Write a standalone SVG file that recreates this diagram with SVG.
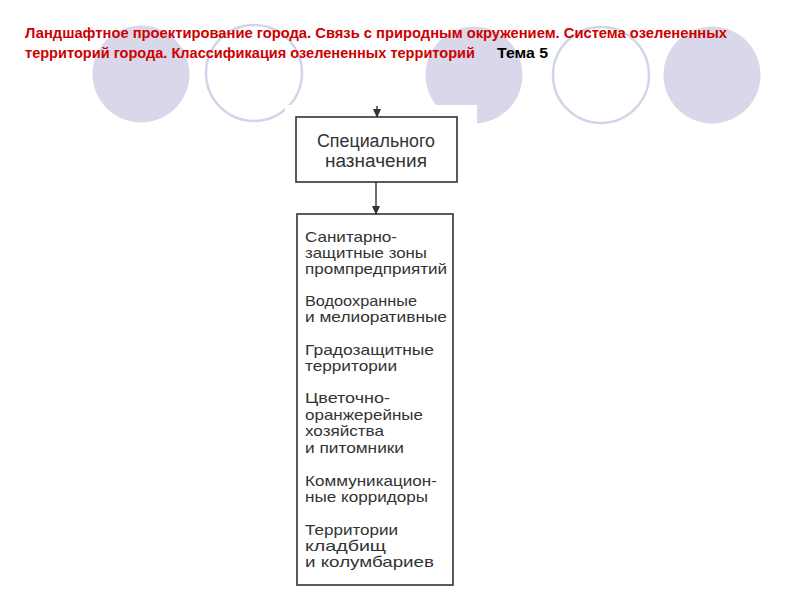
<svg xmlns="http://www.w3.org/2000/svg" width="800" height="600" viewBox="0 0 800 600">
<style>
.fc{fill:#d8d8ea;stroke:none}
.oc{fill:#ffffff;stroke:#d4d4e8;stroke-width:2.5}
.title{font-family:"Liberation Sans Narrow","Liberation Sans",Arial,sans-serif;font-size:14.5px;font-weight:bold}
.box{fill:#ffffff;stroke:#333333;stroke-width:1.6}
.t{font-family:"Liberation Sans",Arial,sans-serif;font-size:15px;fill:#333333}
.h{font-family:"Liberation Sans",Arial,sans-serif;font-size:18px;fill:#333333}
.conn{stroke:#333333;stroke-width:1.4;fill:none}
</style>
<defs>
<marker id="arr" markerWidth="10" markerHeight="10" refX="8" refY="5" orient="auto" markerUnits="userSpaceOnUse">
<path d="M0,1 L9,5 L0,9 Z" fill="#333333"/>
</marker>
</defs>
<rect width="800" height="600" fill="#ffffff"/>
<g id="decor">
<circle class="fc" cx="141" cy="74" r="48.5"/>
<circle class="oc" cx="254" cy="73" r="48"/>
<circle class="fc" cx="474" cy="75" r="48.5"/>
<circle class="oc" cx="601" cy="75" r="48"/>
<circle class="fc" cx="712" cy="75" r="48.5"/>
<rect x="285" y="105" width="192" height="495" fill="#ffffff"/>
</g>
<g id="title">
<text class="title" x="25" y="38" fill="#cc0000" textLength="702" lengthAdjust="spacingAndGlyphs">Ландшафтное проектирование города. Связь с природным окружением.  Система озелененных</text>
<text class="title" x="25" y="58" fill="#cc0000" textLength="450" lengthAdjust="spacingAndGlyphs">территорий города. Классификация озелененных территорий</text>
<text class="title" x="497" y="58" fill="#000000" textLength="51" lengthAdjust="spacingAndGlyphs">Тема 5</text>
</g>
<g id="connectors">
<line class="conn" x1="377" y1="106" x2="377" y2="117" marker-end="url(#arr)"/>
<line class="conn" x1="376" y1="182" x2="376" y2="214" marker-end="url(#arr)"/>
</g>
<g id="node-special">
<rect class="box" x="296" y="117" width="161" height="65"/>
<text class="h" x="317" y="147" textLength="118" lengthAdjust="spacingAndGlyphs">Специального</text>
<text class="h" x="325" y="167" textLength="102" lengthAdjust="spacingAndGlyphs">назначения</text>
</g>
<g id="node-list">
<rect class="box" x="297" y="214" width="156" height="371"/>
<text class="t" x="305" y="242" textLength="92" lengthAdjust="spacingAndGlyphs">Санитарно-</text>
<text class="t" x="305" y="258" textLength="122" lengthAdjust="spacingAndGlyphs">защитные зоны</text>
<text class="t" x="305" y="274" textLength="142" lengthAdjust="spacingAndGlyphs">промпредприятий</text>
<text class="t" x="305" y="306" textLength="112" lengthAdjust="spacingAndGlyphs">Водоохранные</text>
<text class="t" x="305" y="322" textLength="142" lengthAdjust="spacingAndGlyphs">и мелиоративные</text>
<text class="t" x="305" y="355" textLength="129" lengthAdjust="spacingAndGlyphs">Градозащитные</text>
<text class="t" x="305" y="371" textLength="92" lengthAdjust="spacingAndGlyphs">территории</text>
<text class="t" x="305" y="403" textLength="85" lengthAdjust="spacingAndGlyphs">Цветочно-</text>
<text class="t" x="305" y="420" textLength="118" lengthAdjust="spacingAndGlyphs">оранжерейные</text>
<text class="t" x="305" y="436" textLength="79" lengthAdjust="spacingAndGlyphs">хозяйства</text>
<text class="t" x="305" y="453" textLength="99" lengthAdjust="spacingAndGlyphs">и питомники</text>
<text class="t" x="305" y="486" textLength="132" lengthAdjust="spacingAndGlyphs">Коммуникацион-</text>
<text class="t" x="305" y="502" textLength="123" lengthAdjust="spacingAndGlyphs">ные корридоры</text>
<text class="t" x="305" y="535" textLength="93" lengthAdjust="spacingAndGlyphs">Территории</text>
<text class="t" x="305" y="551" textLength="81" lengthAdjust="spacingAndGlyphs">кладбищ</text>
<text class="t" x="305" y="567" textLength="129" lengthAdjust="spacingAndGlyphs">и колумбариев</text>
</g>
</svg>
